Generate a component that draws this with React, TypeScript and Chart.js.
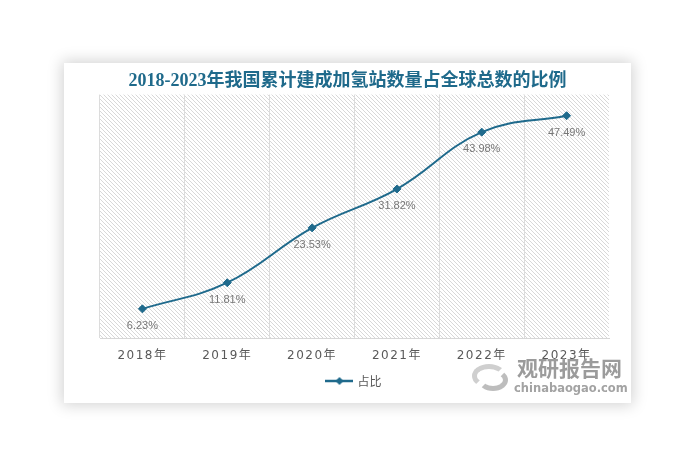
import React, { useEffect, useRef } from 'react';
import { Chart, registerables } from 'chart.js';

Chart.register(...registerables);

const chartTitle = '2018-2023年我国累计建成加氢站数量占全球总数的比例';
const seriesName = '占比';
const categories = ['2018年', '2019年', '2020年', '2021年', '2022年', '2023年'];
const shareValues = [6.23, 11.81, 23.53, 31.82, 43.98, 47.49];
const valueLabels = ['6.23%', '11.81%', '23.53%', '31.82%', '43.98%', '47.49%'];
const yMin = 0;
const yMax = 52;

const LINE_COLOR = '#1f6a8c';

function makeHatch(): CanvasPattern | string {
  const c = document.createElement('canvas');
  c.width = 4;
  c.height = 4;
  const g = c.getContext('2d');
  if (!g) return '#f2f2f2';
  g.fillStyle = '#ffffff';
  g.fillRect(0, 0, 4, 4);
  g.fillStyle = '#d8d8d8';
  for (let i = 0; i < 4; i++) g.fillRect(i, i, 1, 1);
  const p = g.createPattern(c, 'repeat');
  return p || '#f2f2f2';
}

function makeLegendIcon(): HTMLCanvasElement {
  const c = document.createElement('canvas');
  c.width = 28;
  c.height = 10;
  const g = c.getContext('2d')!;
  g.strokeStyle = LINE_COLOR;
  g.lineWidth = 2.5;
  g.beginPath();
  g.moveTo(0, 5);
  g.lineTo(28, 5);
  g.stroke();
  g.fillStyle = LINE_COLOR;
  g.beginPath();
  g.moveTo(14, 1);
  g.lineTo(18, 5);
  g.lineTo(14, 9);
  g.lineTo(10, 5);
  g.closePath();
  g.fill();
  return c;
}

export default function App() {
  const canvasRef = useRef<HTMLCanvasElement | null>(null);

  useEffect(() => {
    if (!canvasRef.current) return;
    const hatch = makeHatch();
    const legendIcon = makeLegendIcon();

    const decorPlugin = {
      id: 'decor',
      afterLayout(chart: any) {
        if (chart.titleBlock) {
          chart.titleBlock.left = 0;
          chart.titleBlock.right = chart.width;
        }
      },
      beforeDraw(chart: any) {
        const { ctx, chartArea } = chart;
        (ctx as any).letterSpacing = '0px';
        ctx.save();
        ctx.fillStyle = hatch as any;
        ctx.fillRect(chartArea.left, chartArea.top, chartArea.right - chartArea.left, chartArea.bottom - chartArea.top);
        ctx.restore();
      },
      afterDatasetsDraw(chart: any) {
        const { ctx } = chart;
        const meta = chart.getDatasetMeta(0);
        ctx.save();
        (ctx as any).letterSpacing = '0px';
        ctx.font = '11px "Liberation Sans", Arial, sans-serif';
        ctx.fillStyle = '#777777';
        ctx.textAlign = 'center';
        ctx.textBaseline = 'middle';
        meta.data.forEach((pt: any, i: number) => {
          ctx.fillText(valueLabels[i], pt.x, pt.y + 17);
        });
        ctx.restore();
        (ctx as any).letterSpacing = '1.5px';
      },
      afterDraw(chart: any) {
        (chart.ctx as any).letterSpacing = '0px';
      },
    };

    const chart = new Chart(canvasRef.current, {
      type: 'line',
      data: {
        labels: categories,
        datasets: [
          {
            label: seriesName,
            data: shareValues,
            borderColor: LINE_COLOR,
            backgroundColor: LINE_COLOR,
            borderWidth: 2,
            tension: 0.4,
            pointStyle: 'rectRot',
            pointRadius: 4,
            pointBorderWidth: 1,
            pointBackgroundColor: LINE_COLOR,
            pointBorderColor: LINE_COLOR,
          },
        ],
      },
      options: {
        animation: false,
        responsive: false,
        maintainAspectRatio: false,
        layout: { padding: { left: 36, right: 22, top: 0, bottom: 6 } },
        scales: {
          x: {
            offset: true,
            afterFit: (scale: any) => {
              scale.height = 24;
            },
            grid: {
              offset: true,
              drawTicks: false,
              color: (c: any) => (c.type === 'tick' ? '#dcdcdc' : 'rgba(0,0,0,0)'),
              lineWidth: 1,
            },
            border: { display: true, color: '#d6d6d6', width: 1 },
            ticks: {
              padding: 11,
              color: '#595959',
              z: 1,
              font: { size: 12, family: '"DejaVu Sans", "Noto Sans CJK SC", sans-serif' },
            },
          },
          y: {
            display: false,
            min: yMin,
            max: yMax,
          },
        },
        plugins: {
          title: {
            display: true,
            text: chartTitle,
            color: '#1f6a8b',
            font: { size: 18, weight: 'bold', family: '"Liberation Serif", "Noto Sans CJK SC", serif' },
            padding: { top: 8, bottom: 2 },
          },
          legend: {
            display: true,
            position: 'bottom',
            labels: {
              usePointStyle: true,
              pointStyleWidth: 24,
              padding: 13,
              color: '#595959',
              font: { size: 12, family: '"Noto Sans CJK SC", sans-serif' },
              generateLabels: () => [
                {
                  text: seriesName,
                  pointStyle: legendIcon,
                  fillStyle: LINE_COLOR,
                  strokeStyle: LINE_COLOR,
                  lineWidth: 0,
                  hidden: false,
                  datasetIndex: 0,
                  fontColor: '#595959',
                } as any,
              ],
            },
          },
          tooltip: { enabled: false },
        },
      },
      plugins: [decorPlugin],
    } as any);

    return () => chart.destroy();
  }, []);

  return (
    <div style={{ position: 'absolute', left: 0, top: 0, width: 692, height: 464, background: '#ffffff', overflow: 'hidden' }}>
      <div
        style={{
          position: 'absolute',
          left: 64,
          top: 63,
          width: 567,
          height: 340,
          background: '#ffffff',
          boxShadow: '0 0 14px 2px rgba(0,0,0,0.18)',
        }}
      >
        <canvas ref={canvasRef} width={567} height={340} style={{ display: 'block', width: 567, height: 340 }} />
      </div>
      <div style={{ position: 'absolute', left: 470, top: 362, width: 40, height: 30, pointerEvents: 'none' }}>
        <div style={{ position: 'absolute', left: 2, top: 2, width: 34, height: 24, borderRadius: '50%', border: '5px solid #cfcfcf', borderRightColor: 'transparent', borderBottomColor: 'transparent', boxSizing: 'border-box' }} />
        <div style={{ position: 'absolute', left: 8, top: 7, width: 30, height: 22, borderRadius: '50%', border: '5px solid #bdbdbd', borderLeftColor: 'transparent', borderTopColor: 'transparent', boxSizing: 'border-box' }} />
      </div>
      <div style={{ position: 'absolute', left: 517, top: 354, fontFamily: '"Noto Sans CJK SC", sans-serif', fontWeight: 'bold', fontSize: 21, lineHeight: '26px', color: '#9b9b9b', whiteSpace: 'nowrap', pointerEvents: 'none' }}>
        观研报告网
      </div>
      <div style={{ position: 'absolute', left: 514, top: 381, fontFamily: '"DejaVu Sans", sans-serif', fontWeight: 'bold', fontSize: 11.5, lineHeight: '14px', color: '#a3a3a3', whiteSpace: 'nowrap', pointerEvents: 'none' }}>
        chinabaogao.com
      </div>
    </div>
  );
}
